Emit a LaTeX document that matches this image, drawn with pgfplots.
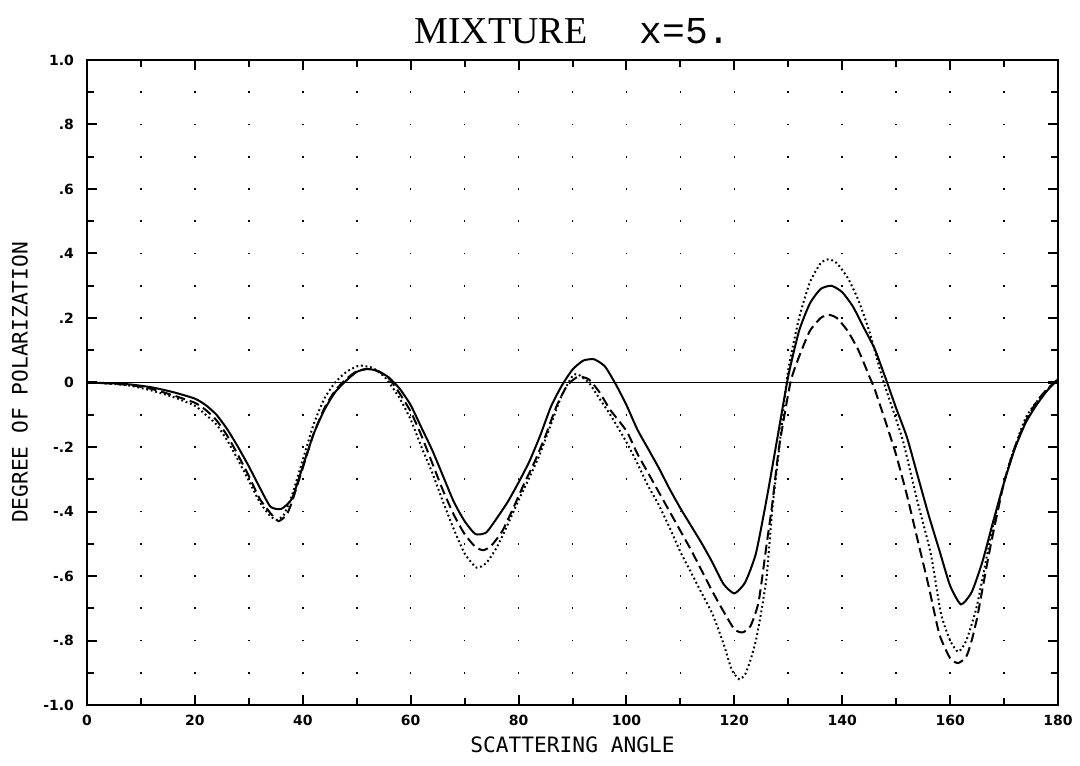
\documentclass[border=0pt]{standalone}
\usepackage{fontspec}
\usepackage{pgfplots}
\pgfplotsset{compat=1.18}
\newfontfamily\titlefont{Liberation Serif}
\newfontfamily\titlemono{Liberation Mono}
\newfontfamily\labelfont{DejaVu Sans Mono}
\newfontfamily\tickfont{DejaVu Sans}

\pgfplotstableread{
a p
0 0
4 -0.002
8 -0.006
12 -0.015
16 -0.03
20 -0.05
22 -0.07
24 -0.10
26 -0.145
28 -0.20
30 -0.26
32 -0.325
34 -0.385
36 -0.392
38 -0.36
40 -0.26
42 -0.16
44 -0.085
46 -0.03
48 0.005
50 0.033
52 0.042
54 0.035
56 0.015
58 -0.02
60 -0.07
62 -0.14
64 -0.21
66 -0.29
68 -0.37
70 -0.43
72 -0.47
74 -0.465
76 -0.42
78 -0.37
80 -0.31
82 -0.245
84 -0.165
86 -0.075
88 -0.01
90 0.04
92 0.068
94 0.072
96 0.05
98 -0.005
100 -0.07
102 -0.145
104 -0.205
106 -0.265
108 -0.33
110 -0.39
112 -0.445
114 -0.50
116 -0.56
118 -0.625
120 -0.654
122 -0.62
124 -0.53
126 -0.36
128 -0.17
130 0.02
132 0.16
134 0.245
136 0.29
138 0.30
140 0.28
142 0.235
144 0.17
146 0.105
148 0.015
150 -0.08
152 -0.17
154 -0.29
156 -0.41
158 -0.52
160 -0.63
162 -0.688
164 -0.65
166 -0.555
168 -0.43
170 -0.31
172 -0.205
174 -0.125
176 -0.07
178 -0.025
180 0.01
}\solid

\pgfplotstableread{
a p
0 0
4 -0.003
8 -0.008
12 -0.02
16 -0.04
20 -0.063
22 -0.085
24 -0.117
26 -0.165
28 -0.225
30 -0.29
32 -0.36
34 -0.405
35.5 -0.43
37 -0.41
38 -0.37
40 -0.265
42 -0.16
44 -0.08
46 -0.025
48 0.01
50 0.035
52 0.042
54 0.035
56 0.012
58 -0.035
60 -0.09
62 -0.165
64 -0.25
66 -0.335
68 -0.41
70 -0.47
72 -0.51
73.5 -0.52
75 -0.505
77 -0.46
79 -0.39
81 -0.315
83 -0.245
85 -0.165
87 -0.075
89 -0.01
91 0.018
93 0.01
95 -0.03
97 -0.085
100 -0.15
102 -0.22
104 -0.28
106 -0.34
108 -0.40
110 -0.46
112 -0.52
114 -0.585
116 -0.65
118 -0.71
120 -0.765
121.5 -0.775
123 -0.755
124.5 -0.68
126 -0.50
127 -0.38
128.3 -0.20
130.4 0
132 0.08
134 0.16
136 0.20
137.5 0.21
139 0.20
141 0.16
143 0.10
145 0.02
146 -0.02
148 -0.12
150 -0.225
152 -0.35
154 -0.49
156 -0.63
158 -0.78
160 -0.855
161.5 -0.87
163 -0.85
164 -0.80
165 -0.73
166 -0.64
167 -0.55
168 -0.465
170 -0.31
172 -0.20
174 -0.12
176 -0.06
178 -0.02
180 0.01
}\dashed

\pgfplotstableread{
a p
0 0
4 -0.003
8 -0.01
12 -0.025
16 -0.045
20 -0.072
22 -0.10
24 -0.13
26 -0.18
28 -0.24
30 -0.305
32 -0.37
34 -0.415
35.2 -0.426
36.5 -0.41
38 -0.35
40 -0.24
42 -0.13
44 -0.05
46 0.0
48 0.032
50 0.05
51 0.052
53 0.045
55 0.02
56 0.0
58 -0.05
60 -0.115
62 -0.20
64 -0.28
66 -0.37
68 -0.455
70 -0.53
72.2 -0.574
74 -0.56
76 -0.51
78 -0.44
80 -0.365
82 -0.295
84 -0.22
86 -0.13
88 -0.04
90 0.02
91 0.025
93 0.0
95 -0.05
97 -0.10
100 -0.185
102 -0.25
104 -0.32
106 -0.38
108 -0.45
110 -0.525
112 -0.59
114 -0.655
116 -0.72
118 -0.81
119.5 -0.89
120.9 -0.92
122 -0.905
123 -0.86
124 -0.80
125 -0.71
126 -0.60
127 -0.40
128 -0.25
129 -0.10
130 0.04
132 0.20
134 0.31
136 0.37
137.5 0.382
139 0.37
141 0.325
143 0.255
145 0.16
146.5 0.07
147.7 0.0
150 -0.115
151.4 -0.19
153.9 -0.366
156.4 -0.53
158.3 -0.716
160 -0.80
161.5 -0.835
163 -0.80
165 -0.69
168 -0.44
171 -0.25
174 -0.11
177 -0.04
180 0.01
}\dotted

\begin{document}
\begin{tikzpicture}
\path[use as bounding box] (-43.5pt,-30pt) rectangle (496.5pt,352.5pt);
\begin{axis}[
  scale only axis,
  width=485.5pt, height=322.5pt,
  at={(0,0)}, anchor=south west,
  xmin=0, xmax=180, ymin=-1, ymax=1,
  clip=false,
  axis line style={line width=1.4pt},
  xtick={0,20,40,60,80,100,120,140,160,180},
  xticklabels={0,20,40,60,80,100,120,140,160,180},
  minor xtick={10,30,50,70,90,110,130,150,170},
  ytick={-1,-0.8,-0.6,-0.4,-0.2,0,0.2,0.4,0.6,0.8,1},
  yticklabels={-1.0,-.8,-.6,-.4,-.2,0,.2,.4,.6,.8,1.0},
  minor ytick={-0.9,-0.7,-0.5,-0.3,-0.1,0.1,0.3,0.5,0.7,0.9},
  tick align=inside,
  tick pos=both,
  major tick length=5pt,
  minor tick length=3.5pt,
  every tick/.style={line width=1pt, black},
  xticklabel style={font=\tickfont\bfseries\fontsize{7}{8}\selectfont, yshift=-1.5pt},
  yticklabel style={font=\tickfont\bfseries\fontsize{7}{8}\selectfont, xshift=-3pt},
  xmajorgrids=true, xminorgrids=true,
  major grid style={draw=black, line width=0.8pt, dash pattern=on 0.8pt off 15.325pt, dash phase=0.4pt},
  minor grid style={draw=black, line width=0.8pt, dash pattern=on 0.8pt off 15.325pt, dash phase=0.4pt},
]
\addplot[black, line width=0.7pt] coordinates {(0,0) (180,0)};
\addplot[black, line width=1pt, smooth, tension=0.35] table[x=a,y=p] {\solid};
\addplot[black, line width=1pt, smooth, tension=0.35, dash pattern=on 5pt off 2.5pt] table[x=a,y=p] {\dashed};
\addplot[black, line width=1pt, smooth, tension=0.35, dash pattern=on 0.9pt off 1.4pt] table[x=a,y=p] {\dotted};

\node[anchor=base] at (rel axis cs:0.5,1) [yshift=8pt] {{\titlefont\fontsize{19}{22}\selectfont MIXTURE}\hspace{26pt}{\titlemono\fontsize{19}{22}\selectfont x=5.}};
\node at (rel axis cs:0.5,0) [yshift=-20pt] {\labelfont\fontsize{10.6}{12}\selectfont SCATTERING ANGLE};
\node[rotate=90] at (rel axis cs:-0.069,0.5) {\labelfont\fontsize{10.6}{12}\selectfont DEGREE OF POLARIZATION};
\end{axis}
\end{tikzpicture}
\end{document}
